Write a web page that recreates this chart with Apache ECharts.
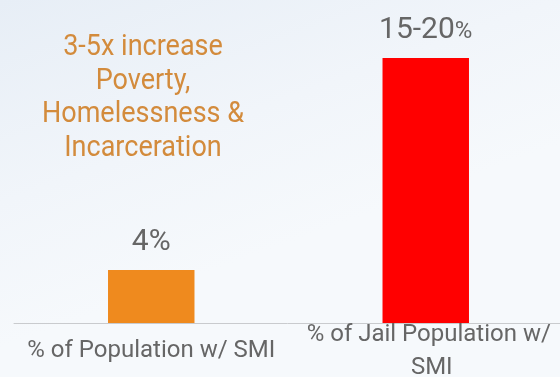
<!DOCTYPE html>
<html>
<head>
<meta charset="utf-8">
<script src="https://cdn.jsdelivr.net/npm/echarts@6/dist/echarts.min.js"></script>
<style>
  html, body { margin: 0; padding: 0; }
  body {
    width: 560px; height: 377px; overflow: hidden;
    background: linear-gradient(160deg, #e7eef6 0%, #f1f5fa 35%, #f6f9fc 60%, #f6f9fc 100%);
  }
  #chart { width: 560px; height: 377px; }
</style>
</head>
<body>
<div id="chart"></div>
<script>
// Share of people with serious mental illness (SMI)
const categories = ['% of Population w/ SMI', '% of Jail Population w/ SMI'];
const values = [4, 20];
const valueLabels = ['4%', '15-20%'];
const barColors = ['#ef8a1e', '#ff0000'];
const noteLines = ['3-5x increase', 'Poverty,', 'Homelessness &', 'Incarceration'];

const chart = echarts.init(document.getElementById('chart'), null, { renderer: 'canvas' });

chart.setOption({
  backgroundColor: 'transparent',
  animation: false,
  textStyle: { fontFamily: 'Roboto' },
  grid: {
    left: 14, right: -3, top: 58, bottom: 54,
    containLabel: false,
    outerBoundsMode: 'none'
  },
  xAxis: {
    type: 'category',
    data: categories,
    axisLine: { show: true, lineStyle: { color: '#c9cbce', width: 1 } },
    axisTick: { show: false },
    axisLabel: {
      color: '#666666',
      fontSize: 24,
      fontFamily: 'Roboto',
      lineHeight: 33,
      width: 262,
      overflow: 'break',
      verticalAlign: 'middle',
      margin: 28,
      interval: 0,
      hideOverlap: false,
      // wrapped labels sit a little lower and right, so pad the block
      formatter: (v) => {
        const wraps = v.length > 24;
        return wraps ? '{gap|}\n{w|' + v + '}' : '{t|' + v + '}';
      },
      rich: {
        gap: { height: 28, lineHeight: 28, fontSize: 10 },
        t: {
          color: '#666666', fontSize: 24, fontFamily: 'Roboto', lineHeight: 33
        },
        w: {
          color: '#666666', fontSize: 24, fontFamily: 'Roboto', lineHeight: 33,
          padding: [0, 0, 0, 12]
        }
      }
    }
  },
  yAxis: {
    type: 'value',
    min: 0,
    max: 20,
    show: false,
    splitLine: { show: false }
  },
  series: [{
    type: 'bar',
    barWidth: '31.5%',
    data: values.map((v, i) => ({ value: v, itemStyle: { color: barColors[i] } })),
    label: {
      show: true,
      position: 'top',
      distance: 13,
      color: '#666666',
      fontFamily: 'Roboto',
      fontSize: 30,
      formatter: p => {
        const t = valueLabels[p.dataIndex];
        if (t.endsWith('%') && t.length > 2) {
          return '{n|' + t.slice(0, -1) + '}{p|%}';
        }
        return '{n|' + t + '}';
      },
      rich: {
        n: { fontSize: 30, color: '#666666', fontFamily: 'Roboto' },
        p: { fontSize: 24, color: '#666666', fontFamily: 'Roboto', padding: [4, 0, 0, 0] }
      }
    }
  }],
  graphic: [{
    type: 'text',
    x: 143,
    y: 31,
    scaleY: 1.1,
    style: {
      text: noteLines.join('\n'),
      align: 'center',
      verticalAlign: 'top',
      fill: '#d38b3c',
      fontSize: 27,
      fontFamily: 'Roboto',
      lineHeight: 30.5
    }
  }]
});
</script>
</body>
</html>
